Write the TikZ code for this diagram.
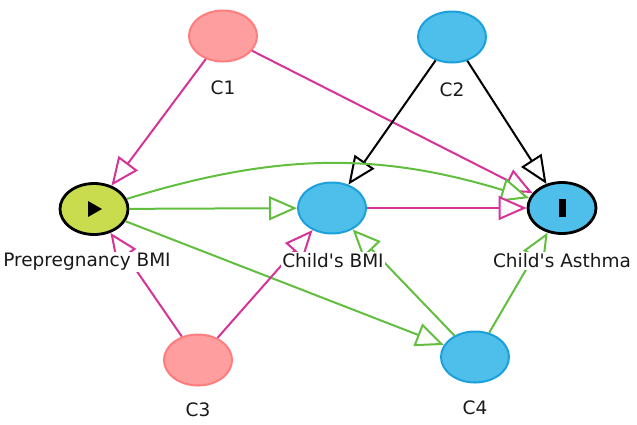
\documentclass[tikz,border=0pt]{standalone}
\usepackage{fontspec}
\setmainfont{DejaVu Sans}
\usetikzlibrary{shapes.geometric,arrows.meta}

\definecolor{pinkfill}{RGB}{255,158,158}
\definecolor{pinkline}{RGB}{255,125,125}
\definecolor{bluefill}{RGB}{78,190,234}
\definecolor{blueline}{RGB}{27,160,220}
\definecolor{limefill}{RGB}{200,220,78}
\definecolor{magentaedge}{RGB}{214,51,153}
\definecolor{greenedge}{RGB}{98,190,63}

\tikzset{
  var/.style={ellipse, minimum width=68pt, minimum height=51pt, inner sep=0pt, line width=2pt},
  adjust/.style={var, fill=pinkfill, draw=pinkline},
  other/.style={var, fill=bluefill, draw=blueline},
  exposure/.style={var, fill=limefill, draw=black, line width=2.8pt},
  outcome/.style={var, fill=bluefill, draw=black, line width=2.8pt},
  lbl/.style={fill=white, inner sep=1.5pt, text=black!90, font=\fontsize{18.5}{22}\selectfont},
  edge/.style={line width=2pt, -{Triangle[length=28pt, width=24pt, fill=white, line width=2pt]}},
  biasing/.style={edge, draw=magentaedge},
  causal/.style={edge, draw=greenedge},
  plain/.style={edge, draw=black}
}

\begin{document}
\begin{tikzpicture}[x=1pt, y=-1pt]
  \useasboundingbox (0,0) rectangle (637,424);

  % variables
  \node[adjust]   (c1)  at (223,36)  {};
  \node[other]    (c2)  at (452,37)  {};
  \node[exposure] (pre) at (94,209)  {};
  \node[other]    (cb)  at (332,208) {};
  \node[outcome]  (ca)  at (562,208) {};
  \node[adjust]   (c3)  at (198,360) {};
  \node[other]    (c4)  at (475,357) {};

  % markers inside exposure and outcome
  \fill (pre.center) ++(-6,-8) -- ++(14,8) -- ++(-14,8) -- cycle;
  \fill (ca.center) ++(-3.5,-9) rectangle ++(7,18);

  % arrows
  \draw[biasing] (c1) -- (pre);
  \draw[biasing] (c1) -- (ca);
  \draw[plain]   (c2) -- (cb);
  \draw[plain]   (c2) -- (ca);
  \draw[causal]  (pre) to[bend left=17] (ca);
  \draw[causal]  (pre) -- (cb);
  \draw[causal]  (pre) -- (c4);
  \draw[biasing] (cb) -- (ca);
  \draw[biasing] (c3) -- (pre);
  \draw[biasing] (c3) -- (cb);
  \draw[causal]  (c4) -- (cb);
  \draw[causal]  (c4) -- (ca);

  % labels
  \node[lbl] (lc1)  at (223,88)  {C1};
  \node[lbl] (lc2)  at (452,90)  {C2};
  \node[lbl] (lpre) at (87,262)  {Prepregnancy BMI};
  \node[lbl] (lcb)  at (333,261) {Child\textquotesingle s BMI};
  \node[lbl] (lca)  at (562,261) {Child\textquotesingle s Asthma};
  \node[lbl] (lc3)  at (198,410) {C3};
  \node[lbl] (lc4)  at (475,408) {C4};
\end{tikzpicture}
\end{document}
